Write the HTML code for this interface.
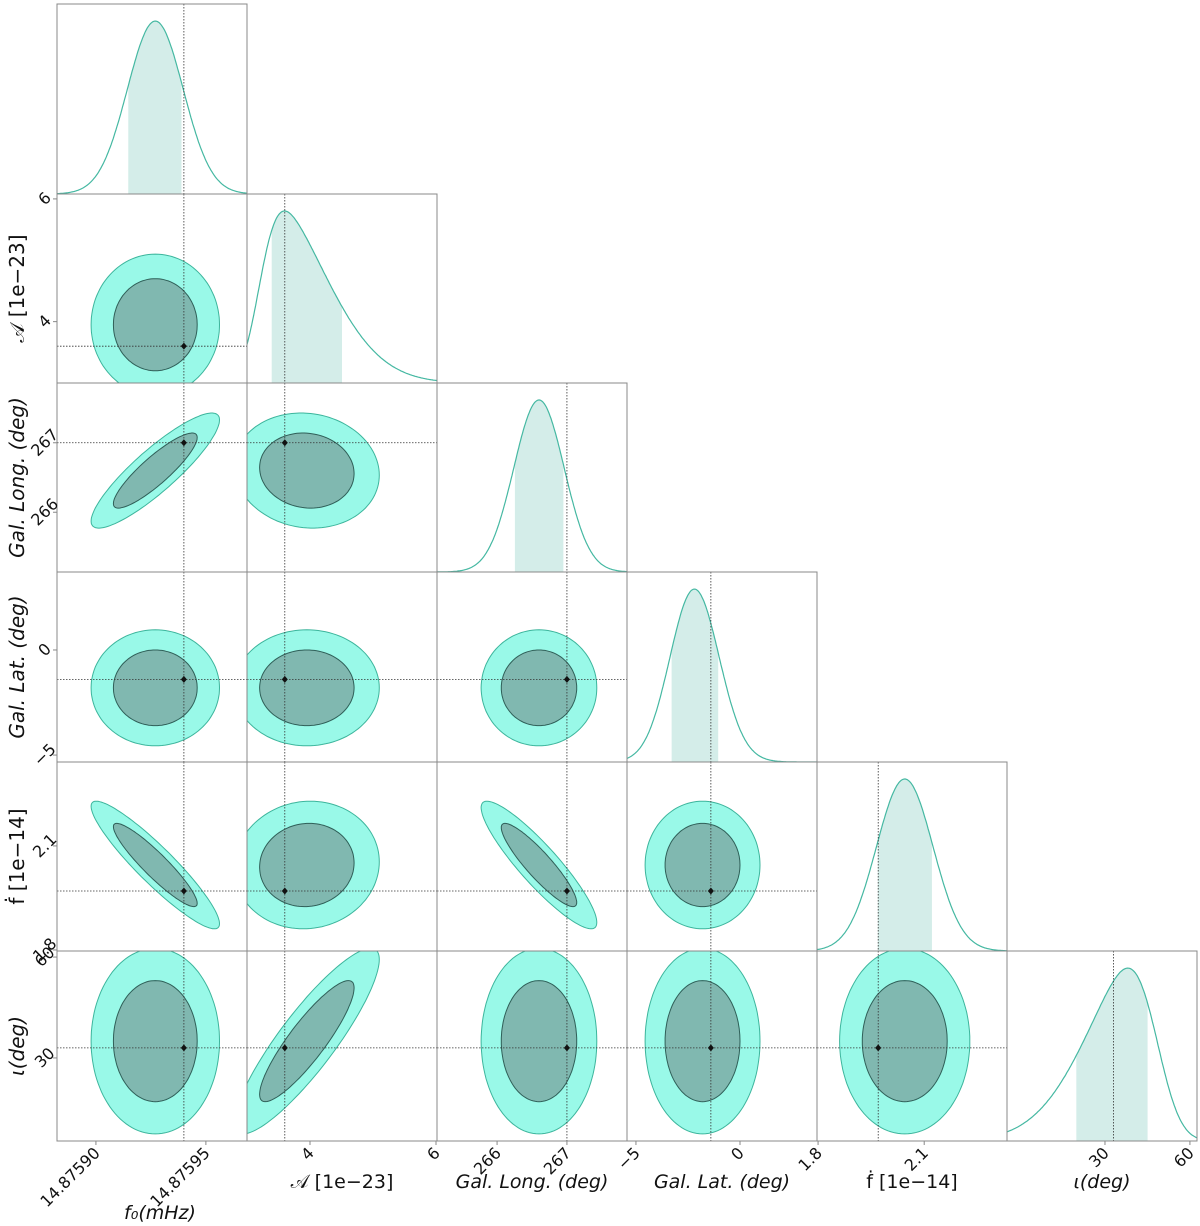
<!DOCTYPE html>
<html><head><meta charset="utf-8"><style>
html,body{margin:0;padding:0;background:#fff;}
svg{display:block;font-family:"DejaVu Sans","Liberation Sans",sans-serif;}
</style></head><body>
<svg id="chart" width="1200" height="1226" viewBox="0 0 1200 1226" xmlns="http://www.w3.org/2000/svg"></svg>
<script>
// ---- data ----
const paramNames = ["f0","A","long","lat","fdot","iota"];
const paramMeans = [14.875927, 3.95, 266.6, -1.8, 2.045, 35];
const paramSigmas = [1.27e-5, 0.5, 0.36, 1.2, 0.08, 12];
const paramTruths = [14.87594, 3.6, 267.0, -1.4, 1.97, 33];
const margLoc = [14.875927, 3.2, 266.6, -2.7, 2.045, 48];
const margScale = [1.27e-5, 0.95, 0.36, 1.3, 0.08, 21];
const margSkew = [0, 4, 0, 0.6, 0, -3];
const corrPairs = [[0,2,0.88],[0,4,-0.92],[2,4,-0.9],[1,5,0.88],[1,2,-0.08],[1,4,0.05]];
const xRanges = [[14.8758823,14.8759687],[3.0,6.016],[265.14,267.86],[-5.43,3.7],[1.797,2.334],[-4.6,62.5]];
const yRanges = [null,[3.0,6.08],[265.14,267.86],[-5.33,3.71],[1.797,2.342],[5.3,61.8]];
const xTickVals = [[14.8759,14.87595],[4,6],[266,267],[-5,0],[1.8,2.1],[30,60]];
const xTickLabels = [["14.87590","14.87595"],["4","6"],["266","267"],["−5","0"],["1.8","2.1"],["30","60"]];
const yTickVals = [null,[4,6],[266,267],[-5,0],[1.8,2.1],[30,60]];
const yTickLabels = [null,["4","6"],["266","267"],["−5","0"],["1.8","2.1"],["30","60"]];
const axisLabelsX = ["f₀(mHz)","𝒜 [1e−23]","Gal. Long. (deg)","Gal. Lat. (deg)","ḟ [1e−14]","ι(deg)"];
const axisLabelsY = [null,"𝒜 [1e−23]","Gal. Long. (deg)","Gal. Lat. (deg)","ḟ [1e−14]","ι(deg)"];
const contourLevels = [2.3, 1.5];

// ---- layout ----
const colX = [57,247,437,627,817,1007,1197];
const rowY = [4,194,383,572,762,951,1141];
const svg = document.getElementById('chart');
const NS = 'http://www.w3.org/2000/svg';
function mk(tag, attrs, parent){const e=document.createElementNS(NS,tag);for(const k in attrs)e.setAttribute(k,attrs[k]);(parent||svg).appendChild(e);return e;}
function sx(p,v){const r=xRanges[p];return colX[p]+(v-r[0])/(r[1]-r[0])*(colX[p+1]-colX[p]);}
function sy(row,p,v){const r=yRanges[p];return rowY[row+1]-(v-r[0])/(r[1]-r[0])*(rowY[row+1]-rowY[row]);}
function rho(a,b){for(const c of corrPairs){if((c[0]===a&&c[1]===b)||(c[0]===b&&c[1]===a))return c[2];}return 0;}
function phi(z){return Math.exp(-z*z/2)/Math.sqrt(2*Math.PI);}
function Phi(z){const t=1/(1+0.2316419*Math.abs(z));const d=0.3989423*Math.exp(-z*z/2);let p=d*t*(0.3193815+t*(-0.3565638+t*(1.781478+t*(-1.821256+t*1.330274))));return z>0?1-p:p;}

const defs = mk('defs',{});
const gridG = mk('g',{});  

for(let r=0;r<6;r++){
  for(let c=0;c<=r;c++){
    const x0=colX[c],x1=colX[c+1],y0=rowY[r],y1=rowY[r+1];
    const cp=mk('clipPath',{id:'cp'+r+'_'+c},defs);
    mk('rect',{x:x0,y:y0,width:x1-x0,height:y1-y0},cp);
    const g=mk('g',{'clip-path':'url(#cp'+r+'_'+c+')'},gridG);
    if(r===c){
      
      
      const p=c, n=200, vals=[];
      const xs=[];
      let mx=0;
      for(let i=0;i<=n;i++){const v=xRanges[p][0]+(xRanges[p][1]-xRanges[p][0])*i/n;const z=(v-margLoc[p])/margScale[p];const d=2*phi(z)*Phi(margSkew[p]*z);xs.push(v);vals.push(d);if(d>mx)mx=d;}
      let tot=vals.reduce((a,b)=>a+b,0),acc=0,qlo=null,qhi=null;
      for(let i=0;i<=n;i++){acc+=vals[i];if(qlo===null&&acc>=0.17*tot)qlo=i;if(qhi===null&&acc>=0.83*tot)qhi=i;}
      const H=(y1-y0)*0.91;
      const yy=d=>y1-d/mx*H;
      let sh='M'+sx(p,xs[qlo])+','+y1;
      for(let i=qlo;i<=qhi;i++)sh+=' L'+sx(p,xs[i]).toFixed(1)+','+yy(vals[i]).toFixed(1);
      sh+=' L'+sx(p,xs[qhi])+','+y1+' Z';
      const s=mk('path',{d:sh,fill:'#d4ede9'},g);
      
      
      let ln='';
      for(let i=0;i<=n;i++)ln+=(i?' L':'M')+sx(p,xs[i]).toFixed(1)+','+yy(vals[i]).toFixed(1);
      const l=mk('path',{d:ln,fill:'none',stroke:'#45b8a2','stroke-width':1.2},g);
      
      
      const tx=sx(p,paramTruths[p]);
      const tl=mk('line',{x1:tx,x2:tx,y1:y0,y2:y1,stroke:'#333','stroke-width':0.8,'stroke-dasharray':'1.5,1.5'},g);
      
      
    } else {
      
      
      const px=c,py=r,rh=rho(px,py);
      const cxp=sx(px,paramMeans[px]), cyp=sy(r,py,paramMeans[py]);
      const sxp=sx(px,paramMeans[px]+paramSigmas[px])-cxp;
      const syp=cyp-sy(r,py,paramMeans[py]+paramSigmas[py]);
      contourLevels.forEach((k,li)=>{
        let d='';
        for(let i=0;i<=120;i++){const t=i/120*2*Math.PI;const u=Math.cos(t),w=rh*Math.cos(t)+Math.sqrt(1-rh*rh)*Math.sin(t);
          d+=(i?' L':'M')+(cxp+k*sxp*u).toFixed(1)+','+(cyp-k*syp*w).toFixed(1);}
        d+=' Z';
        const e=mk('path',{d:d,fill:li?'#80b8b0':'#99f9e8',stroke:li?'#2f5f58':'#3cb59c','stroke-width':1},g);
        
        
      });
      const tx=sx(px,paramTruths[px]), ty=sy(r,py,paramTruths[py]);
      const v=mk('line',{x1:tx,x2:tx,y1:y0,y2:y1,stroke:'#333','stroke-width':0.8,'stroke-dasharray':'1.5,1.5'},g);
      
      
      const h=mk('line',{x1:x0,x2:x1,y1:ty,y2:ty,stroke:'#333','stroke-width':0.8,'stroke-dasharray':'1.5,1.5'},g);
      
      
      const m=mk('path',{d:`M${tx},${ty-3.5} L${tx+3},${ty} L${tx},${ty+3.5} L${tx-3},${ty} Z`,fill:'#111'},g);
      
      
    }
    const fr=mk('rect',{x:x0,y:y0,width:x1-x0,height:y1-y0,fill:'none',stroke:'#888','stroke-width':1},gridG);
    
    
  }
}

// ---- ticks & labels ----
const axG = mk('g',{});  
for(let p=0;p<6;p++){
  xTickVals[p].forEach((v,i)=>{
    const x=sx(p,v);
    mk('line',{x1:x,x2:x,y1:1141,y2:1145,stroke:'#888'},axG);
    const t=mk('text',{x:x+5,y:1154,'font-size':16,'text-anchor':'end',transform:`rotate(-45 ${x+5} 1154)`,fill:'#111'},axG);
    t.textContent=xTickLabels[p][i];
    
    
  });
  const lx=(colX[p]+colX[p+1])/2+ (p===0?8:0);
  const ly=p===0?1219:1188;
  const t=mk('text',{x:lx,y:ly,'font-size':19,'text-anchor':'middle','font-style':(p===1||p===4)?'normal':'italic',fill:'#111'},axG);
  t.textContent=axisLabelsX[p];
  
  
}
for(let r=1;r<6;r++){
  yTickVals[r].forEach((v,i)=>{
    const y=sy(r,r,v);
    mk('line',{x1:53,x2:57,y1:y,y2:y,stroke:'#888'},axG);
    const t=mk('text',{x:45,y:y+5,'font-size':16,'text-anchor':'middle',transform:`rotate(-45 45 ${y})`,fill:'#111'},axG);
    t.textContent=yTickLabels[r][i];
    
    
  });
  const cy=(rowY[r]+rowY[r+1])/2;
  const t=mk('text',{x:24,y:cy,'font-size':20,'text-anchor':'middle','font-style':(r===1||r===4)?'normal':'italic',transform:`rotate(-90 24 ${cy})`,fill:'#111'},axG);
  t.textContent=axisLabelsY[r];
  
  
}
</script>
</body></html>
